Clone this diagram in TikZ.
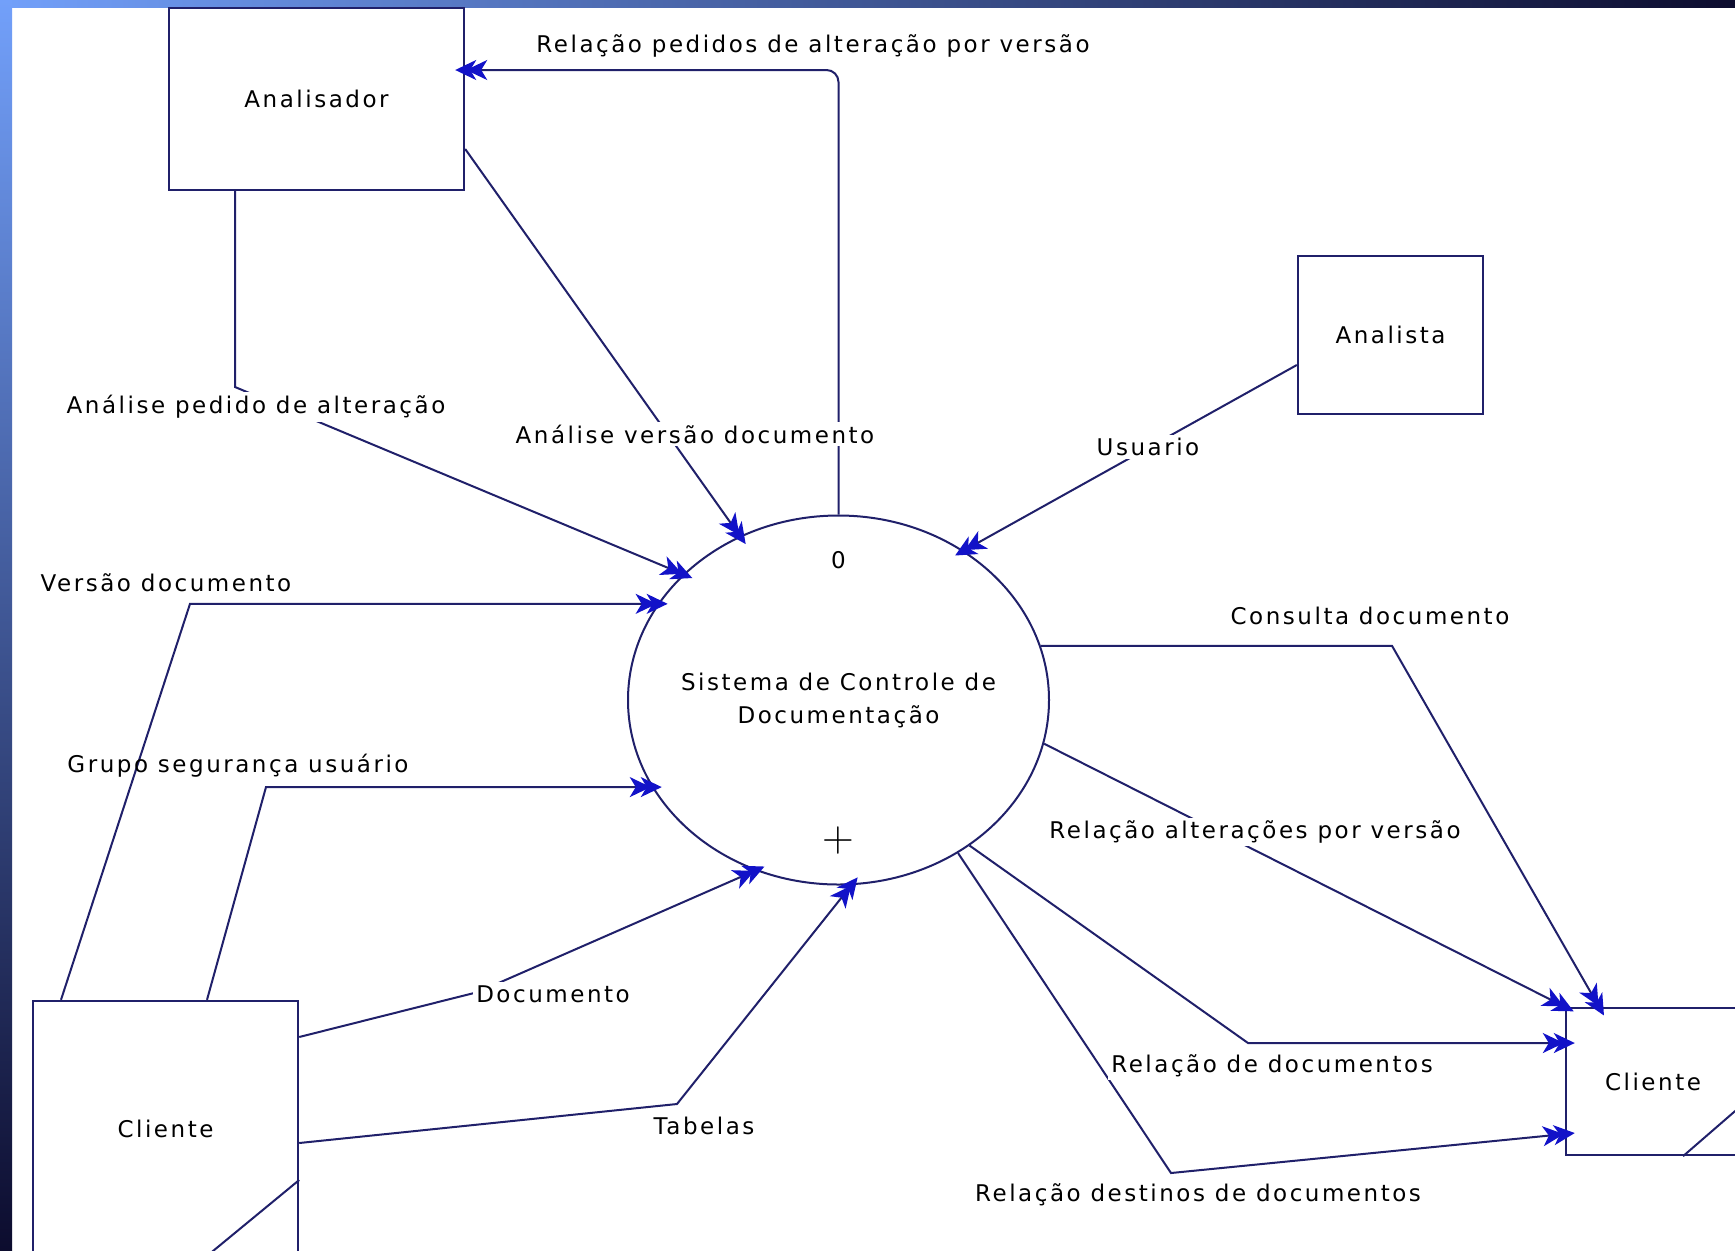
\documentclass[tikz,border=0pt]{standalone}
\usepackage{fontspec}
\usepackage{tikz}
\usetikzlibrary{shapes,arrows.meta}

\newfontfamily\dfdfont[LetterSpace=11]{DejaVu Sans}
\definecolor{navyline}{HTML}{20206A}
\definecolor{tipblue}{HTML}{1212C8}
\definecolor{slidelight}{HTML}{72A0FA}
\definecolor{slidemid}{HTML}{4A4CDC}
\definecolor{slidedark}{HTML}{0C0C2E}

\begin{document}
\begin{tikzpicture}[x=0.5pt,y=-0.5pt,
  font=\dfdfont\fontsize{11.5pt}{16.5pt}\selectfont,
  >={Stealth[length=10.5pt,width=10pt,inset=3pt,sep=-5pt,color=tipblue]},
  entity/.style={rectangle,draw=navyline,line width=1.2pt,inner sep=0pt},
  process/.style={ellipse,draw=navyline,line width=1pt,inner ysep=0pt,inner xsep=-14pt,
    align=center,minimum width=210.5pt,minimum height=184.5pt},
  flow/.style={->>,draw=navyline,line width=1pt},
  lbl/.style={fill=white,inner sep=1.5pt}]

  % slide frame
  \useasboundingbox (0,0) rectangle (1735,1250);
  \fill[white] (0,0) rectangle (1735,1250);
  \shade[left color=slidelight,middle color=slidemid,right color=slidedark] (0,0) rectangle (1735,7);
  \shade[top color=slidelight,middle color=slidemid,bottom color=slidedark] (0,0) rectangle (12,1250);

  % entities and process
  \node[entity,minimum width=147.5pt,minimum height=91pt] (analisador) at (316.5,99) {Analisador};
  \node[entity,minimum width=92.5pt,minimum height=79pt] (analista) at (1390.5,335) {Analista};
  \node[entity,minimum width=132.5pt,minimum height=128pt] (cliente1) at (165.5,1129) {Cliente};
  \node[entity,minimum width=87pt,minimum height=73.5pt] (cliente2) at (1653,1081.5) {Cliente};
  \node[process] (sistema) at (838.5,700) {Sistema de Controle de\\Documentação};
  \node (num) at ([yshift=-22.75pt]sistema.north) {0};
  \node[font=\fontsize{22pt}{22pt}\selectfont] (plus) at ([yshift=22.25pt]sistema.south) {+};

  % duplicate marks
  \draw[navyline,line width=1pt] ([yshift=-25.5pt]cliente1.east) -- ++(-110,90.6);
  \draw[navyline,line width=1pt] ([xshift=15pt]cliente2.south) -- ++(60,-52);

  % flows
  \draw[flow,rounded corners=6pt] (sistema.north) |- ([yshift=14.5pt]analisador.east);
  \draw[flow] ([yshift=-25pt]analisador.east) -- (sistema.121.2);
  \draw[flow] ([xshift=-40.75pt]analisador.south) -- (235,387) -- (sistema.141.5);
  \draw[flow] ([yshift=-15pt]analista.west) -- (sistema.50.9);
  \draw[flow] ([xshift=-52.25pt]cliente1.north) -- (190,0 |- sistema.152.9) -- (sistema.152.9);
  \draw[flow] ([xshift=20.75pt]cliente1.north) -- (266,0 |- sistema.205.6) -- (sistema.205.6);
  \draw[flow] ([yshift=46pt]cliente1.east) -- (478,992) -- (sistema.244.6);
  \draw[flow] ([yshift=-7pt]cliente1.east) -- (677,1104) -- (sistema.274.1);
  \draw[flow] (sistema.15.9) -- (1392,0 |- sistema.15.9) -- ([xshift=-27pt]cliente2.north);
  \draw[flow] (sistema.348.1) -- (cliente2.north west);
  \draw[flow] (sistema.312.9) -- (1248,1043) -- ([yshift=19.25pt]cliente2.west);
  \draw[flow] (sistema.308.1) -- (1171,1173) -- ([yshift=-26.25pt]cliente2.west);

  % flow labels
  \node[lbl] (l1) at (813,46) {Relação pedidos de alteração por versão};
  \node[lbl] (l2) at (695,434) {Análise versão documento};
  \node[lbl] (l3) at (256,407) {Análise pedido de alteração};
  \node[lbl] (l4) at (1148,447) {Usuario};
  \node[lbl] (l5) at (166,583) {Versão documento};
  \node[lbl,fill=none] (l6) at (238,766) {Grupo segurança usuário};
  \node[lbl] (l7) at (553,994) {Documento};
  \node[lbl] (l8) at (704,1126) {Tabelas};
  \node[lbl] (l9) at (1370,616) {Consulta documento};
  \node[lbl] (l10) at (1255,832) {Relação alterações por versão};
  \node[lbl] (l11) at (1272,1066) {Relação de documentos};
  \node[lbl] (l12) at (1198,1195) {Relação destinos de documentos};
\end{tikzpicture}
\end{document}
